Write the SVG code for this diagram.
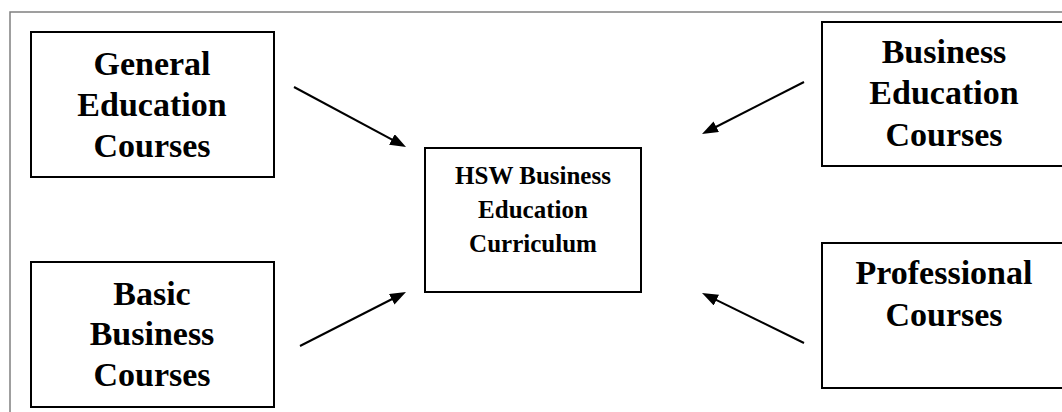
<svg xmlns="http://www.w3.org/2000/svg" width="1062" height="412" viewBox="0 0 1062 412">
  <style>
    .box { fill: #ffffff; stroke: #000000; stroke-width: 2; }
    .frame { fill: none; stroke: #808080; stroke-width: 1.5; }
    .lbl { font-family: "Liberation Serif", "Times New Roman", serif; font-weight: bold; font-size: 34px; fill: #000000; text-anchor: middle; }
    .lbl-c { font-family: "Liberation Serif", "Times New Roman", serif; font-weight: bold; font-size: 25px; fill: #000000; text-anchor: middle; }
    .conn { stroke: #000000; stroke-width: 2; fill: none; marker-end: url(#arrow); }
  </style>
  <defs>
    <marker id="arrow" markerUnits="userSpaceOnUse" markerWidth="16" markerHeight="12" viewBox="0 0 16 12" refX="6" refY="6" orient="auto">
      <path d="M0,0 L16,6 L0,12 z" fill="#000000"/>
    </marker>
  </defs>
  <rect x="0" y="0" width="1062" height="412" fill="#ffffff"/>
  <path class="frame" d="M10,412 V12 H1062"/>

  <g id="general-education">
    <rect class="box" x="31" y="32" width="243" height="145"/>
    <text class="lbl" x="152" y="75">General</text>
    <text class="lbl" x="152" y="116">Education</text>
    <text class="lbl" x="152" y="157">Courses</text>
  </g>

  <g id="basic-business">
    <rect class="box" x="31" y="262" width="243" height="145"/>
    <text class="lbl" x="152" y="305">Basic</text>
    <text class="lbl" x="152" y="345">Business</text>
    <text class="lbl" x="152" y="386">Courses</text>
  </g>

  <g id="business-education">
    <rect class="box" x="822" y="22" width="260" height="144"/>
    <text class="lbl" x="944" y="63">Business</text>
    <text class="lbl" x="944" y="104">Education</text>
    <text class="lbl" x="944" y="146">Courses</text>
  </g>

  <g id="professional">
    <rect class="box" x="822" y="243" width="260" height="145"/>
    <text class="lbl" x="944" y="284">Professional</text>
    <text class="lbl" x="944" y="326">Courses</text>
  </g>

  <g id="hsw-curriculum">
    <rect class="box" x="425" y="148" width="216" height="144"/>
    <text class="lbl-c" x="533" y="184">HSW Business</text>
    <text class="lbl-c" x="533" y="218">Education</text>
    <text class="lbl-c" x="533" y="252">Curriculum</text>
  </g>

  <g id="connectors">
    <line class="conn" x1="294" y1="87" x2="397.2" y2="142.3"/>
    <line class="conn" x1="300" y1="346" x2="397.1" y2="296.5"/>
    <line class="conn" x1="804" y1="82" x2="710.9" y2="129.5"/>
    <line class="conn" x1="804" y1="343" x2="711" y2="297.4"/>
  </g>
</svg>
